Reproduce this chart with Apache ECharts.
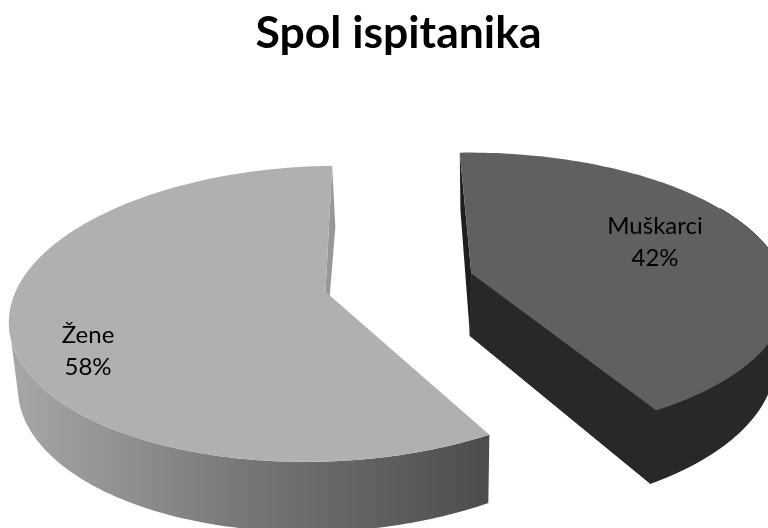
<!DOCTYPE html>
<html>
<head>
<meta charset="utf-8">
<style>html,body{margin:0;padding:0;background:#fff}#c{width:768px;height:528px}</style>
<script src="https://cdn.jsdelivr.net/npm/echarts@6/dist/echarts.min.js"></script>
</head>
<body>
<div id="c"></div>
<script>
var categories = ['Muškarci', 'Žene'];
var values = [42, 58];
var chartTitle = 'Spol ispitanika';

var START_ANGLE = -1.8;
var LOOKS = [
  { top: {ax:471.3,ay:273.3,rx:311,ry:138.7,k:0.149,s:0.025},
    bottom: {ax:470,ay:335.7,rx:300,ry:146.8,k:0.168,s:0.012},
    face:'#606060', side:'#282828', radial:'#282828', inner:'#1e1e1e',
    innerAtEnd:false, innerShift:0, topFrom:60, bottomFrom:60, topTo:null, bottomTo:null,
    labelX:655, labelY:242 },
  { top: {ax:325.5,ay:291.7,rx:310,ry:144.8,k:0.149,s:-0.12},
    bottom: {ax:325,ay:354,rx:300,ry:148,k:0.168,s:-0.102},
    face:'#b0b0b0',
    side:new echarts.graphic.LinearGradient(0,0,1,0,[{offset:0,color:'#a8a8a8'},{offset:0.5,color:'#767676'},{offset:1,color:'#4c4c4c'}]),
    radial:null, inner:'#989898',
    innerAtEnd:true, innerShift:5.5, topFrom:null, bottomFrom:null, topTo:258, bottomTo:252,
    labelX:88, labelY:351 }
];

function project(p, deg, r) {
  var t = deg * Math.PI / 180;
  var u = r * Math.sin(t), v = r * Math.cos(t);
  var w = 1 + p.k * v;
  var y = -p.ry * v / w;
  return [p.ax + p.rx * u / w + p.s * y, p.ay + y];
}
function arc(p, a, b) {
  var pts = [], n = 120;
  for (var i = 0; i <= n; i++) pts.push(project(p, a + (b - a) * i / n, 1));
  return pts;
}

var total = values.reduce(function (a, b) { return a + b; }, 0);
var sliceData = [], acc = START_ANGLE;
values.forEach(function (v, i) {
  var end = acc + v / total * 360;
  sliceData.push([acc, end, v, i]);
  acc = end;
});

function renderItem(params, api) {
  var a = api.value(0), b = api.value(1), val = api.value(2), i = api.value(3);
  var L = LOOKS[i], children = [];
  var o = project(L.top, 0, 0), oB = project(L.bottom, 0, 0);
  var aT = project(L.top, a, 1), aB = project(L.bottom, a, 1);
  var bT = project(L.top, b, 1), bB = project(L.bottom, b, 1);
  function poly(points, fill, stroke) {
    children.push({ type:'polygon', shape:{points:points},
      style:{fill:fill, stroke:stroke || null, lineWidth:stroke ? 1 : 0} });
  }
  var wT = L.innerAtEnd ? bT : aT, wB = L.innerAtEnd ? bB : aB;
  poly([o, wT, [wB[0] + L.innerShift, wB[1]], oB], L.inner);
  if (L.radial) poly([o, bT, bB, oB], L.radial, L.radial);
  var t0 = L.topFrom === null ? a : L.topFrom, t1 = L.topTo === null ? b : L.topTo;
  var b0 = L.bottomFrom === null ? a : L.bottomFrom, b1 = L.bottomTo === null ? b : L.bottomTo;
  poly(arc(L.top, t0, t1).concat(arc(L.bottom, b0, b1).reverse()), L.side,
       typeof L.side === 'string' ? L.side : null);
  poly([o].concat(arc(L.top, a, b)), L.face);
  children.push({
    type:'text', z2:10,
    style:{ x:L.labelX, y:L.labelY, text:categories[i] + '\n' + val + '%', fill:'#000',
      font:'24px Lato', lineHeight:32, align:'center', verticalAlign:'middle' }
  });
  return { type:'group', children:children };
}

var chart = echarts.init(document.getElementById('c'), null, { renderer:'canvas' });
chart.setOption({
  animation:false,
  backgroundColor:'#fff',
  title:{ text:chartTitle, left:393.5, top:6, textAlign:'center',
    textStyle:{ fontFamily:'Lato', fontWeight:'bold', fontSize:44.5, color:'#000' } },
  series:[{ type:'custom', coordinateSystem:'none', renderItem:renderItem, data:sliceData }]
});
</script>
</body>
</html>
